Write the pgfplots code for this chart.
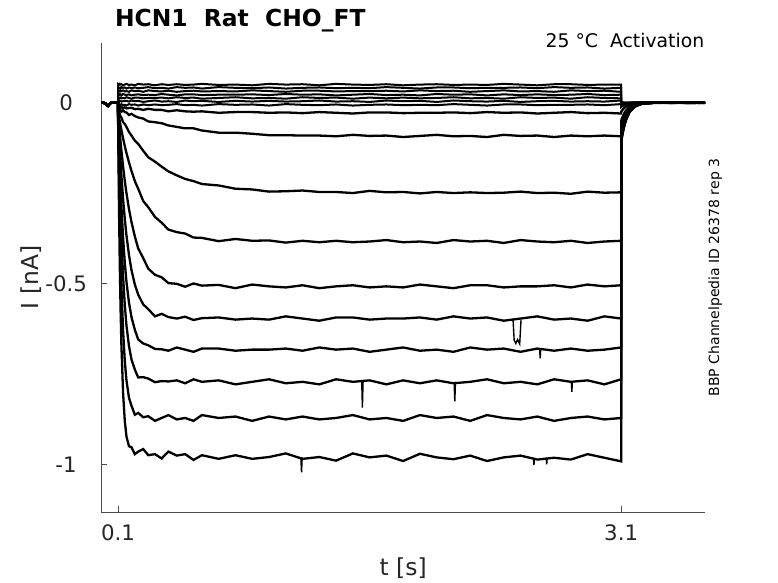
\documentclass[border=0pt]{standalone}
\usepackage{fontspec}
\setmainfont{DejaVu Sans}
\usepackage{pgfplots}
\usepackage{pgfplotstable}
\pgfplotsset{compat=1.18}
\definecolor{axisgray}{HTML}{4D4D4D}
\definecolor{labelgray}{HTML}{262626}

\pgfplotstableread{
t b1 b2 b3 b4 b5 b6 b7 m1 m0 h1 h2 h3 h4 h5 h6 h7 h8
0 0.000 0.000 0.000 0.000 0.000 0.000 0.000 0.000 0.000 0.000 0.000 0.000 0.000 0.000 0.000 0.000 0.000
0.02 -0.001 -0.001 -0.001 -0.001 -0.001 -0.001 -0.001 -0.001 -0.001 -0.001 -0.001 -0.001 -0.001 -0.001 -0.001 -0.001 -0.001
0.04 -0.009 -0.009 -0.009 -0.009 -0.009 -0.009 -0.009 -0.009 -0.009 -0.009 -0.009 -0.009 -0.009 -0.009 -0.009 -0.009 -0.009
0.06 0.001 0.001 0.001 0.001 0.001 0.001 0.001 0.001 0.001 0.001 0.001 0.001 0.001 0.001 0.001 0.001 0.001
0.08 0.000 0.000 0.000 0.000 0.000 0.000 0.000 0.000 0.000 0.000 0.000 0.000 0.000 0.000 0.000 0.000 0.000
0.0999 0.000 0.000 0.000 0.000 0.000 0.000 0.000 0.000 0.000 0.000 0.000 0.000 0.000 0.000 0.000 0.000 0.000
0.1 0.051 0.043 0.033 0.020 0.014 0.004 -0.006 -0.010 -0.018 -0.022 -0.025 -0.027 -0.029 -0.031 -0.033 -0.035 -0.040
0.105 0.049 0.040 0.031 0.024 0.011 0.002 -0.005 -0.012 -0.016 -0.024 -0.039 -0.056 -0.078 -0.107 -0.140 -0.192 -0.269
0.11 0.052 0.041 0.033 0.022 0.013 0.005 -0.008 -0.012 -0.021 -0.032 -0.051 -0.083 -0.123 -0.175 -0.231 -0.320 -0.442
0.115 0.050 0.039 0.031 0.023 0.014 0.005 -0.006 -0.015 -0.021 -0.038 -0.064 -0.109 -0.164 -0.234 -0.309 -0.424 -0.572
0.12 0.051 0.043 0.032 0.020 0.012 0.003 -0.004 -0.012 -0.025 -0.041 -0.076 -0.133 -0.202 -0.287 -0.376 -0.508 -0.672
0.13 0.048 0.041 0.034 0.024 0.013 0.004 -0.007 -0.015 -0.021 -0.054 -0.099 -0.177 -0.267 -0.374 -0.481 -0.632 -0.804
0.14 0.050 0.042 0.031 0.022 0.012 0.004 -0.006 -0.013 -0.026 -0.059 -0.120 -0.216 -0.321 -0.442 -0.559 -0.714 -0.880
0.15 0.052 0.039 0.032 0.021 0.015 0.005 -0.008 -0.016 -0.027 -0.067 -0.139 -0.250 -0.367 -0.495 -0.616 -0.768 -0.923
0.165 0.049 0.042 0.030 0.023 0.013 0.003 -0.004 -0.015 -0.034 -0.081 -0.165 -0.294 -0.421 -0.553 -0.673 -0.816 -0.950
0.18 0.050 0.040 0.034 0.020 0.011 0.006 -0.006 -0.014 -0.031 -0.091 -0.189 -0.330 -0.463 -0.593 -0.710 -0.838 -0.953
0.2 0.048 0.042 0.032 0.022 0.014 0.004 -0.005 -0.018 -0.037 -0.105 -0.217 -0.370 -0.503 -0.628 -0.738 -0.863 -0.972
0.22 0.052 0.040 0.033 0.023 0.014 0.005 -0.008 -0.017 -0.041 -0.114 -0.238 -0.403 -0.531 -0.655 -0.760 -0.858 -0.965
0.25 0.050 0.041 0.030 0.021 0.012 0.002 -0.005 -0.020 -0.044 -0.133 -0.272 -0.430 -0.558 -0.666 -0.759 -0.870 -0.958
0.28 0.051 0.043 0.034 0.022 0.013 0.004 -0.007 -0.017 -0.052 -0.151 -0.289 -0.459 -0.571 -0.671 -0.763 -0.867 -0.975
0.32 0.048 0.040 0.032 0.021 0.013 0.006 -0.005 -0.020 -0.054 -0.163 -0.316 -0.476 -0.591 -0.681 -0.773 -0.880 -0.972
0.36 0.051 0.041 0.031 0.024 0.014 0.003 -0.007 -0.020 -0.057 -0.177 -0.332 -0.483 -0.584 -0.682 -0.770 -0.872 -0.984
0.4 0.049 0.039 0.033 0.022 0.012 0.004 -0.006 -0.024 -0.063 -0.190 -0.351 -0.499 -0.593 -0.686 -0.771 -0.864 -0.965
0.45 0.051 0.043 0.030 0.020 0.015 0.002 -0.004 -0.021 -0.067 -0.201 -0.358 -0.501 -0.597 -0.677 -0.768 -0.876 -0.976
0.5 0.049 0.041 0.032 0.023 0.013 0.006 -0.007 -0.024 -0.071 -0.211 -0.362 -0.509 -0.592 -0.683 -0.776 -0.872 -0.972
0.55 0.050 0.042 0.033 0.023 0.014 0.004 -0.006 -0.025 -0.071 -0.217 -0.373 -0.500 -0.601 -0.689 -0.765 -0.880 -0.988
0.6 0.052 0.039 0.031 0.021 0.011 0.005 -0.008 -0.024 -0.077 -0.225 -0.374 -0.506 -0.596 -0.680 -0.772 -0.864 -0.975
0.7 0.049 0.043 0.032 0.022 0.013 0.002 -0.004 -0.028 -0.083 -0.229 -0.383 -0.504 -0.594 -0.680 -0.768 -0.872 -0.985
0.8 0.050 0.041 0.031 0.022 0.015 0.005 -0.006 -0.026 -0.083 -0.238 -0.377 -0.513 -0.600 -0.686 -0.779 -0.868 -0.975
0.9 0.048 0.040 0.034 0.023 0.012 0.003 -0.005 -0.026 -0.086 -0.240 -0.382 -0.503 -0.597 -0.683 -0.772 -0.880 -0.985
1.0 0.052 0.042 0.032 0.021 0.013 0.005 -0.008 -0.028 -0.090 -0.246 -0.381 -0.508 -0.600 -0.683 -0.765 -0.868 -0.980
1.1 0.050 0.039 0.030 0.024 0.011 0.003 -0.004 -0.027 -0.090 -0.245 -0.387 -0.511 -0.591 -0.680 -0.776 -0.876 -0.970
1.2 0.051 0.041 0.033 0.022 0.015 0.004 -0.006 -0.029 -0.091 -0.243 -0.382 -0.505 -0.597 -0.686 -0.772 -0.868 -0.985
1.3 0.048 0.042 0.033 0.023 0.013 0.006 -0.007 -0.026 -0.091 -0.247 -0.386 -0.513 -0.603 -0.677 -0.779 -0.876 -0.980
1.4 0.052 0.040 0.031 0.020 0.014 0.003 -0.005 -0.028 -0.093 -0.247 -0.382 -0.508 -0.594 -0.683 -0.765 -0.872 -0.990
1.5 0.050 0.041 0.032 0.022 0.011 0.004 -0.008 -0.030 -0.089 -0.250 -0.386 -0.505 -0.594 -0.680 -0.772 -0.864 -0.970
1.6 0.049 0.040 0.032 0.024 0.014 0.002 -0.006 -0.027 -0.092 -0.244 -0.384 -0.511 -0.600 -0.689 -0.768 -0.876 -0.981
1.7 0.051 0.043 0.033 0.021 0.012 0.006 -0.005 -0.027 -0.091 -0.248 -0.380 -0.508 -0.597 -0.683 -0.779 -0.872 -0.976
1.8 0.048 0.041 0.031 0.022 0.014 0.004 -0.007 -0.029 -0.095 -0.247 -0.386 -0.511 -0.597 -0.677 -0.768 -0.880 -0.991
1.9 0.050 0.039 0.034 0.020 0.012 0.005 -0.006 -0.028 -0.092 -0.251 -0.384 -0.503 -0.594 -0.686 -0.776 -0.864 -0.971
2.0 0.051 0.042 0.032 0.024 0.013 0.002 -0.007 -0.028 -0.089 -0.247 -0.388 -0.508 -0.600 -0.683 -0.768 -0.872 -0.981
2.1 0.049 0.042 0.033 0.022 0.015 0.006 -0.004 -0.027 -0.093 -0.250 -0.380 -0.513 -0.591 -0.689 -0.776 -0.868 -0.986
2.2 0.050 0.040 0.030 0.023 0.012 0.004 -0.006 -0.029 -0.092 -0.248 -0.384 -0.505 -0.597 -0.677 -0.772 -0.880 -0.976
2.3 0.049 0.041 0.032 0.020 0.013 0.003 -0.008 -0.026 -0.095 -0.250 -0.382 -0.505 -0.594 -0.683 -0.765 -0.864 -0.991
2.4 0.052 0.041 0.034 0.023 0.011 0.005 -0.005 -0.028 -0.089 -0.249 -0.388 -0.511 -0.603 -0.680 -0.776 -0.872 -0.981
2.5 0.050 0.042 0.031 0.021 0.015 0.002 -0.005 -0.027 -0.092 -0.246 -0.380 -0.508 -0.597 -0.689 -0.772 -0.876 -0.976
2.6 0.048 0.040 0.032 0.023 0.013 0.004 -0.007 -0.030 -0.091 -0.250 -0.384 -0.508 -0.591 -0.680 -0.779 -0.868 -0.987
2.7 0.051 0.043 0.030 0.021 0.014 0.005 -0.006 -0.028 -0.095 -0.249 -0.386 -0.505 -0.600 -0.686 -0.765 -0.880 -0.982
2.8 0.051 0.041 0.034 0.022 0.011 0.003 -0.006 -0.026 -0.091 -0.252 -0.382 -0.511 -0.597 -0.680 -0.772 -0.872 -0.987
2.9 0.049 0.042 0.032 0.024 0.015 0.004 -0.005 -0.029 -0.093 -0.246 -0.388 -0.503 -0.603 -0.686 -0.768 -0.868 -0.972
3.0 0.050 0.039 0.033 0.021 0.013 0.003 -0.007 -0.028 -0.091 -0.249 -0.384 -0.508 -0.591 -0.683 -0.779 -0.876 -0.982
3.1 0.050 0.041 0.030 0.022 0.012 0.006 -0.004 -0.030 -0.093 -0.248 -0.382 -0.505 -0.597 -0.677 -0.765 -0.872 -0.992
3.1001 0.001 0.000 0.000 -0.002 -0.004 -0.007 -0.012 -0.025 -0.050 -0.072 -0.085 -0.093 -0.098 -0.102 -0.105 -0.108 -0.110
3.105 0.000 0.001 0.000 -0.002 -0.003 -0.006 -0.010 -0.022 -0.043 -0.062 -0.074 -0.081 -0.085 -0.088 -0.091 -0.094 -0.095
3.11 0.000 0.000 0.001 -0.001 -0.003 -0.005 -0.009 -0.019 -0.038 -0.054 -0.064 -0.070 -0.074 -0.077 -0.079 -0.081 -0.083
3.12 0.000 -0.001 0.000 -0.001 -0.002 -0.004 -0.007 -0.014 -0.028 -0.041 -0.048 -0.053 -0.055 -0.058 -0.059 -0.061 -0.062
3.13 -0.001 0.000 0.000 -0.001 -0.002 -0.003 -0.005 -0.011 -0.021 -0.031 -0.036 -0.039 -0.042 -0.043 -0.045 -0.046 -0.047
3.15 0.000 0.000 -0.001 0.000 -0.001 -0.002 -0.003 -0.006 -0.012 -0.017 -0.020 -0.022 -0.024 -0.024 -0.025 -0.026 -0.026
3.18 0.000 0.001 0.000 0.000 0.000 -0.001 -0.001 -0.003 -0.005 -0.007 -0.009 -0.009 -0.010 -0.010 -0.011 -0.011 -0.011
3.22 0.001 0.000 0.000 0.000 0.000 0.000 0.000 -0.001 -0.002 -0.002 -0.003 -0.003 -0.003 -0.003 -0.003 -0.003 -0.004
3.3 0.000 0.000 0.000 0.001 0.000 0.000 0.000 0.000 0.000 0.000 0.001 0.000 -0.001 0.000 0.001 0.000 0.000
3.4 0.000 -0.001 0.000 0.000 0.000 0.001 0.000 0.000 0.001 0.000 -0.001 0.000 0.000 0.001 0.000 -0.001 0.001
3.5 -0.001 0.000 0.000 0.000 0.000 0.000 0.001 0.000 0.000 -0.001 0.000 0.000 0.001 -0.001 0.000 0.001 -0.001
3.6 0.000 0.000 0.001 0.000 0.001 0.000 0.000 -0.001 0.000 0.000 0.000 0.001 0.000 0.000 -0.001 0.000 0.000
}\traces

\begin{document}
\begin{tikzpicture}
\useasboundingbox (0,0) rectangle (389bp,291.5bp);
\begin{axis}[
  name=ax,
  at={(50.65bp,35.5bp)}, anchor=south west,
  scale only axis, width=301.85bp, height=234.5bp,
  xmin=0, xmax=3.6, ymin=-1.132, ymax=0.165,
  axis x line*=bottom, axis y line*=left,
  axis line style={draw=axisgray, line width=0.5bp, -},
  xtick={0.1,3.1}, xticklabels={0.1,3.1},
  ytick={-1,-0.5,0}, yticklabels={-1,-0.5,0},
  tick align=inside, major tick length=3bp,
  tick style={draw=axisgray, line width=0.5bp},
  ticklabel style={font=\fontsize{10.65bp}{12bp}\selectfont, text=labelgray},
  xticklabel style={anchor=center, yshift=-10.5bp},
  yticklabel style={anchor=center, xshift=-17.6bp},
  xlabel={t [s]}, ylabel={I [nA]},
  xlabel style={at={(axis description cs:0.5,-0.119)}, anchor=center, font=\fontsize{11.7bp}{13bp}\selectfont, text=labelgray},
  ylabel style={at={(axis description cs:-0.1165,0.5)}, anchor=center, font=\fontsize{11.7bp}{13bp}\selectfont, text=labelgray},
]
\pgfplotsinvokeforeach{b1,b2,b3,b4,b5,b6,b7}{
  \addplot[black, line width=1.0bp] table[x=t, y=#1] {\traces};
}
\pgfplotsinvokeforeach{m1,m0,h1,h2,h3,h4,h5,h6,h7,h8}{
  \addplot[black, line width=1.15bp] table[x=t, y=#1] {\traces};
}
\addplot[black, line width=0.7bp, unbounded coords=jump] coordinates {
(1.190,-0.981) (1.194,-1.022) (1.198,-0.981) (1.199,nan)
(1.553,-0.772) (1.557,-0.843) (1.561,-0.772) (1.562,nan)
(2.104,-0.772) (2.108,-0.826) (2.112,-0.772) (2.113,nan)
(2.803,-0.772) (2.806,-0.800) (2.809,-0.772) (2.810,nan)
(2.614,-0.683) (2.617,-0.707) (2.620,-0.683) (2.621,nan)
(2.577,-0.982) (2.580,-1.002) (2.583,-0.982) (2.584,nan)
(2.653,-0.982) (2.656,-1.000) (2.659,-0.982) (2.660,nan)
(2.455,-0.597) (2.462,-0.657) (2.472,-0.666) (2.482,-0.655) (2.495,-0.667) (2.503,-0.600)
};
\end{axis}
\node[anchor=base west, inner sep=0pt, font=\bfseries\fontsize{11.7bp}{13bp}\selectfont]
  at ([xshift=6.65bp, yshift=8.15bp]ax.north west) {HCN1\ \ Rat\ \ CHO\_FT};
\node[anchor=base east, inner sep=0pt, font=\fontsize{9.4bp}{11bp}\selectfont]
  at ([xshift=-0.2bp, yshift=-2.15bp]ax.north east) {25 °C\ \ Activation};
\node[rotate=90, anchor=base, inner sep=0pt, font=\fontsize{7bp}{8bp}\selectfont]
  at ([xshift=7bp]ax.east) {BBP Channelpedia ID 26378 rep 3};
\end{tikzpicture}
\end{document}
